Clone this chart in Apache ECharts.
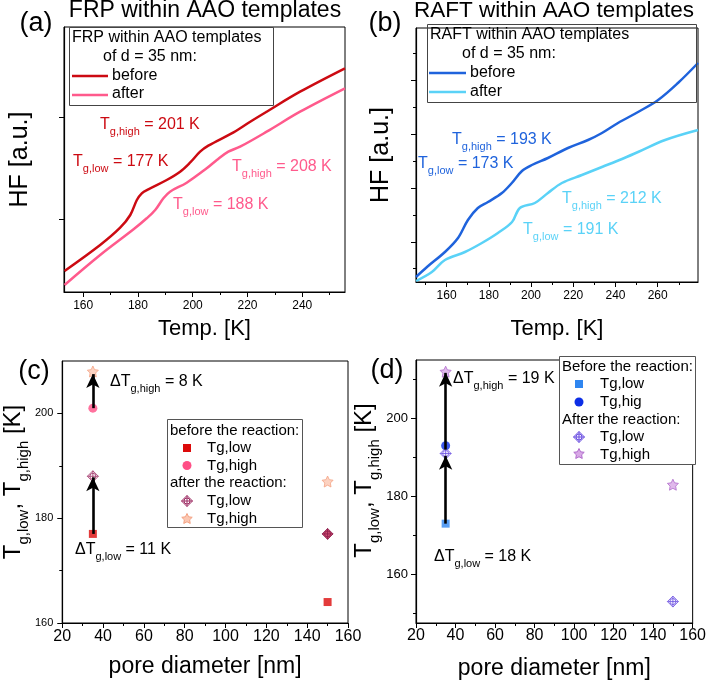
<!DOCTYPE html>
<html><head><meta charset="utf-8">
<script src="https://cdn.jsdelivr.net/npm/echarts@6/dist/echarts.min.js"></script>
<style>html,body{margin:0;padding:0;background:#fff}#c{width:709px;height:681px}</style>
</head><body><div id="c"></div>
<script>
// ---------- DATA ----------
// (a) FRP within AAO templates, d = 35 nm  (Temp [K], HF [a.u.])
const aTempBefore = [153.2,166.2,173.5,177.2,179.6,181.4,183.8,190.5,195.4,199,202.7,205.7,214.9,221,227,239.2,255.6];
const aHFBefore   = [21,47,64.3,77,92,98.7,102.7,112,120.3,129.3,140.3,146.3,159.7,170.3,180.3,200.3,223.7];
const aTempAfter  = [153.2,166.2,178.4,183.2,186.3,189.3,191.7,197.8,205.1,208.8,213,217.3,227,239.2,255.6];
const aHFAfter    = [7,37,62.7,73.7,82,93.7,100.3,109.3,123.7,132,140.3,145.3,160.3,180.3,203.7];
// (b) RAFT within AAO templates, d = 35 nm
const bTempBefore = [145.5,150.7,159.2,165.4,170.1,174.8,179.6,186.2,190.9,195.7,200.4,208,217.5,227,233.6,241.2,250.7,260.2,269.6,279.1];
const bHFBefore   = [5,15,30,44,62,74,80,89,99,111,117,124,134,142,149,159,170,182,199,219];
const bTempAfter  = [145.5,153,159.2,168.7,176.7,184.3,191,194.7,201.8,208,214.6,224.1,233.6,243.1,250.7,263.5,279.1];
const bHFAfter    = [1,10,22,30,39,49,60,74,79,89,99,107,115,123,130,142,152];
// (c) FRP: Tg vs pore diameter
const cPoreBefLow = [35,150];  const cLowBefore  = [177,164];
const cPoreBefHigh = [35];     const cHighBefore = [201];
const cPoreAftLow = [35,150];  const cLowAfter   = [188,177];
const cPoreAftHigh = [35,150]; const cHighAfter  = [208,187];
const cArrowLow  = [177,187.8];
const cArrowHigh = [201,207.5];
// (d) RAFT: Tg vs pore diameter
const dPoreBefLow = [35];      const dLowBefore  = [173];
const dPoreBefHigh = [35];     const dHighBefore = [193];
const dPoreAftLow = [35,150];  const dLowAfter   = [191,153];
const dPoreAftHigh = [35,150]; const dHighAfter  = [212,183];
const dArrowLow  = [173,190.4];
const dArrowHigh = [192,211.7];
// tick labels
const abTempTicksA = [160,180,200,220,240];
const abTempMinorA = [170,190,210,230,250];
const abTempTicksB = [160,180,200,220,240,260];
const abTempMinorB = [150,170,190,210,230,250,270];
const poreTicks = [20,40,60,80,100,120,140,160];
const poreMinor = [30,50,70,90,110,130,150];
const cTgTicks = [160,180,200];
const cTgMinor = [170,190];
const dTgTicks = [160,180,200];
const dTgMinor = [150,170,190,210];

// ---------- HELPERS ----------
const FF = "'Liberation Sans', Arial, sans-serif";
const zip = (xs, ys) => xs.map((x, i) => [x, ys[i]]);
const DIAMOND = 'M10,0 L20,10 L10,20 L0,10 Z M15.5,10 A5.5,5.5 0 1 1 4.5,10 A5.5,5.5 0 1 1 15.5,10 M10,0 L10,20 M0,10 L20,10';
const STAR = 'M10,0 L12.9,6 L19.5,6.9 L14.8,11.5 L15.9,18.1 L10,15 L4.1,18.1 L5.2,11.5 L0.5,6.9 L7.1,6 Z';
const STAR_PTS = [[10,0],[12.9,6],[19.5,6.9],[14.8,11.5],[15.9,18.1],[10,15],[4.1,18.1],[5.2,11.5],[0.5,6.9],[7.1,6]];

function axisPair(dim, grid, min, max, labels, major, minor, o) {
  o = o || {};
  const main = {
    type: 'value', gridIndex: grid, min: min, max: max,
    position: dim === 'x' ? 'bottom' : 'left',
    splitLine: {show: false},
    axisLine: {show: true, onZero: false, lineStyle: {color: '#000', width: 1.2}},
    axisTick: {show: true, inside: false, length: 5, customValues: major, lineStyle: {color: '#000', width: 1}},
    axisLabel: labels ? {show: true, customValues: labels, color: '#000', fontFamily: FF, fontSize: o.fs || 12, margin: o.margin || 8} : {show: false},
    name: o.name || '', nameLocation: 'middle', nameGap: o.nameGap || 30,
    nameTextStyle: o.nameStyle || {}
  };
  const mn = {
    type: 'value', gridIndex: grid, min: min, max: max,
    position: dim === 'x' ? 'bottom' : 'left',
    splitLine: {show: false},
    axisLine: {show: false, onZero: false},
    axisTick: minor ? {show: true, length: 3, customValues: minor, lineStyle: {color: '#000', width: 1}} : {show: false},
    axisLabel: {show: false}
  };
  return [main, mn];
}
const richTg = (sz, ssz, col) => ({
  m: {fontFamily: FF, fontSize: sz, color: col, fill: col, lineHeight: sz + 2, padding: [0, 0, Math.round(sz * 0.27), 0], verticalAlign: 'bottom'},
  s: {fontFamily: FF, fontSize: ssz, color: col, fill: col, lineHeight: ssz, verticalAlign: 'bottom'}
});

const xAxes = [], yAxes = [];
xAxes.push(...axisPair('x', 0, 153, 255.6, abTempTicksA, abTempTicksA, abTempMinorA,
  {fs: 12, name: 'Temp. [K]', nameGap: 26, nameStyle: {fontFamily: FF, fontSize: 22, color: '#000'}}));
yAxes.push(...axisPair('y', 0, 0, 265, null, [73, 175], null,
  {name: 'HF [a.u.]', nameGap: 31, nameStyle: {fontFamily: FF, fontSize: 25, color: '#000'}}));
xAxes.push(...axisPair('x', 1, 145.5, 279.1, abTempTicksB, abTempTicksB, abTempMinorB,
  {fs: 12, name: 'Temp. [K]', nameGap: 36, nameStyle: {fontFamily: FF, fontSize: 22, color: '#000'}}));
yAxes.push(...axisPair('y', 1, 0, 254, null, [40, 94, 148, 202], [14, 67, 121, 175, 229],
  {name: 'HF [a.u.]', nameGap: 22, nameStyle: {fontFamily: FF, fontSize: 25, color: '#000'}}));
xAxes.push(...axisPair('x', 2, 20, 160, poreTicks, poreTicks, poreMinor,
  {fs: 16, margin: 6, name: 'pore diameter [nm]', nameGap: 32, nameStyle: {fontFamily: FF, fontSize: 23, color: '#000'}}));
yAxes.push(...axisPair('y', 2, 160, 210, cTgTicks, cTgTicks, cTgMinor,
  {fs: 11, margin: 9, name: '{m|T}{s|g,low}{m|, T}{s|g,high}{m| [K]}', nameGap: 29,
   nameStyle: {rich: richTg(24, 15, '#000'), padding: [0, 0, 0, 20]}}));
xAxes.push(...axisPair('x', 3, 20, 160, poreTicks, poreTicks, poreMinor,
  {fs: 16, margin: 5, name: 'pore diameter [nm]', nameGap: 34, nameStyle: {fontFamily: FF, fontSize: 23, color: '#000'}}));
yAxes.push(...axisPair('y', 3, 147.5, 215, dTgTicks, dTgTicks, dTgMinor,
  {fs: 13, margin: 8, name: '{m|T}{s|g,low}{m|, T}{s|g,high}{m| [K]}', nameGap: 27,
   nameStyle: {rich: richTg(24, 15, '#000'), padding: [0, 0, 0, 22]}}));

const grids = [
  {left: 64, top: 27, width: 281, height: 265},
  {left: 416, top: 28, width: 282, height: 254},
  {left: 62, top: 361, width: 286, height: 262},
  {left: 416, top: 360, width: 280, height: 265}
].map(g => Object.assign(g, {show: true, borderColor: '#000', borderWidth: 1, backgroundColor: 'transparent', containLabel: false}));

// ---------- COLOURS ----------
const C = {
  aBefore: '#cc0a12', aAfter: '#ff5a8c',
  bBefore: '#1f63dc', bAfter: '#5ad2f7',
  cSq: '#dc0a0a', cCirc: '#ff4f86', cDia: '#9c2a62', cStar: '#f4a283',
  dSq: '#2f86f0', dCirc: '#0c2ee6', dDia: '#6a4fe0', dStar: '#b06ccc'
};

function lineSeries(k, xs, ys, col) {
  return {type: 'line', xAxisIndex: 2 * k, yAxisIndex: 2 * k, data: zip(xs, ys), smooth: 0.35,
          symbol: 'none', lineStyle: {color: col, width: 2.5}, silent: true, z: 3};
}
function arrows(pore, a1, a2) {
  return {silent: true, symbol: ['none', 'arrow'], symbolSize: [10, 14], label: {show: false},
    lineStyle: {color: '#000', width: 2.6, type: 'solid'}, emphasis: {disabled: true}, animation: false,
    data: [[{coord: [pore, a1[0]]}, {coord: [pore, a1[1]]}], [{coord: [pore, a2[0]]}, {coord: [pore, a2[1]]}]]};
}
function scat(k, xs, ys, symbol, size, style, extra) {
  return Object.assign({type: 'scatter', xAxisIndex: 2 * k, yAxisIndex: 2 * k, data: zip(xs, ys),
    symbol: symbol, symbolSize: size, itemStyle: style, silent: true, z: 4}, extra || {});
}

const series = [
  lineSeries(0, aTempBefore, aHFBefore, C.aBefore),
  lineSeries(0, aTempAfter, aHFAfter, C.aAfter),
  lineSeries(1, bTempBefore, bHFBefore, C.bBefore),
  lineSeries(1, bTempAfter, bHFAfter, C.bAfter),
  // (c)
  scat(2, cPoreBefLow, cLowBefore, 'rect', 8, {color: C.cSq}, {markLine: arrows(cPoreBefLow[0], cArrowLow, cArrowHigh)}),
  scat(2, cPoreBefHigh, cHighBefore, 'circle', 9, {color: C.cCirc}),
  scat(2, cPoreAftHigh, cHighAfter, 'path://' + STAR, 11, {color: '#fbc7b2', borderColor: C.cStar, borderWidth: 1}),
  Object.assign(scat(2, cPoreAftLow, cLowAfter, 'path://' + DIAMOND, 11, {color: 'rgba(255,255,255,0.7)', borderColor: C.cDia, borderWidth: 1}),
    {data: zip(cPoreAftLow, cLowAfter).map((p, i) => i === 1 ? {value: p, itemStyle: {color: '#c0204e', borderColor: '#8a1a4a'}} : p)}),
  // (d)
  scat(3, dPoreBefLow, dLowBefore, 'rect', 8, {color: C.dSq}, {markLine: arrows(dPoreBefLow[0], dArrowLow, dArrowHigh)}),
  scat(3, dPoreBefHigh, dHighBefore, 'circle', 9, {color: C.dCirc}),
  scat(3, dPoreAftLow, dLowAfter, 'path://' + DIAMOND, 11, {color: 'rgba(235,230,255,0.7)', borderColor: C.dDia, borderWidth: 1}),
  scat(3, dPoreAftHigh, dHighAfter, 'path://' + STAR, 11, {color: '#d8a8e6', borderColor: C.dStar, borderWidth: 1})
];

// ---------- GRAPHIC TEXT / LEGENDS ----------
const G = [];
function txt(x, y, text, size, col, align, va) {
  G.push({type: 'text', x: x, y: y, z: 10, silent: true,
    style: {text: text, fontFamily: FF, fontSize: size, fill: col || '#000', align: align || 'left', verticalAlign: va || 'middle'}});
}
function subTxt(x, y, pre, sub, post, col, sz, ssz) {
  sz = sz || 16; ssz = ssz || 11;
  G.push({type: 'text', x: x, y: y, z: 10, silent: true,
    style: {text: '{m|' + pre + '}{s|' + sub + '}{m|' + post + '}', rich: richTg(sz, ssz, col), fill: col, align: 'left', verticalAlign: 'middle'}});
}
function legDiamond(cx, cy, s, fill, stroke) {
  const h = s / 2;
  G.push({type: 'polygon', z: 10, silent: true, shape: {points: [[cx, cy - h], [cx + h, cy], [cx, cy + h], [cx - h, cy]]}, style: {fill: fill, stroke: stroke, lineWidth: 1}});
  G.push({type: 'circle', z: 11, silent: true, shape: {cx: cx, cy: cy, r: h * 0.55}, style: {fill: 'none', stroke: stroke, lineWidth: 1}});
  G.push({type: 'line', z: 11, silent: true, shape: {x1: cx, y1: cy - h, x2: cx, y2: cy + h}, style: {stroke: stroke, lineWidth: 1}});
  G.push({type: 'line', z: 11, silent: true, shape: {x1: cx - h, y1: cy, x2: cx + h, y2: cy}, style: {stroke: stroke, lineWidth: 1}});
}
function legStar(cx, cy, s, fill, stroke) {
  const k = s / 20;
  G.push({type: 'polygon', z: 10, silent: true, shape: {points: STAR_PTS.map(p => [cx - s / 2 + p[0] * k, cy - s / 2 + p[1] * k])}, style: {fill: fill, stroke: stroke, lineWidth: 1}});
}
// titles and panel letters
txt(205, 11, 'FRP within AAO templates', 23, '#000', 'center');
txt(554, 11, 'RAFT within AAO templates', 22.5, '#000', 'center');
txt(36, 24, '(a)', 27, '#000', 'center');
txt(385, 24, '(b)', 27, '#000', 'center');
txt(34, 372, '(c)', 27, '#000', 'center');
txt(387, 371, '(d)', 27, '#000', 'center');

// legend (a)
G.push({type: 'rect', z: 9, silent: true, shape: {x: 69.5, y: 27.5, width: 204, height: 78}, style: {fill: 'none', stroke: '#444', lineWidth: 1}});
txt(72, 38, 'FRP within AAO templates', 16);
txt(103, 57, 'of d = 35 nm:', 16);
G.push({type: 'line', z: 10, silent: true, shape: {x1: 72, y1: 76, x2: 108, y2: 76}, style: {stroke: C.aBefore, lineWidth: 2.5}});
G.push({type: 'line', z: 10, silent: true, shape: {x1: 72, y1: 95, x2: 108, y2: 95}, style: {stroke: C.aAfter, lineWidth: 2.5}});
txt(112, 76, 'before', 16);
txt(112, 94, 'after', 16);
// legend (b)
G.push({type: 'rect', z: 9, silent: true, shape: {x: 427.5, y: 24.5, width: 269, height: 78}, style: {fill: 'none', stroke: '#444', lineWidth: 1}});
txt(430, 35, 'RAFT within AAO templates', 16);
txt(462, 54, 'of d = 35 nm:', 16);
G.push({type: 'line', z: 10, silent: true, shape: {x1: 429, y1: 73, x2: 466, y2: 73}, style: {stroke: C.bBefore, lineWidth: 2.5}});
G.push({type: 'line', z: 10, silent: true, shape: {x1: 429, y1: 92, x2: 466, y2: 92}, style: {stroke: C.bAfter, lineWidth: 2.5}});
txt(470, 73, 'before', 16);
txt(470, 92, 'after', 16);

// annotations (a)
subTxt(100, 128, 'T', 'g,high', ' = 201 K', C.aBefore);
subTxt(73, 165, 'T', 'g,low', ' = 177 K', C.aBefore);
subTxt(232, 170, 'T', 'g,high', ' = 208 K', C.aAfter);
subTxt(173, 208, 'T', 'g,low', ' = 188 K', C.aAfter);
// annotations (b)
subTxt(452, 143, 'T', 'g,high', ' = 193 K', C.bBefore);
subTxt(418, 167, 'T', 'g,low', ' = 173 K', C.bBefore);
subTxt(562, 202, 'T', 'g,high', ' = 212 K', C.bAfter);
subTxt(523, 233, 'T', 'g,low', ' = 191 K', C.bAfter);
// annotations (c), (d)
subTxt(110, 385, '\u0394T', 'g,high', ' = 8 K', '#000');
subTxt(75, 553, '\u0394T', 'g,low', ' = 11 K', '#000');
subTxt(453, 382, '\u0394T', 'g,high', ' = 19 K', '#000');
subTxt(434, 560, '\u0394T', 'g,low', ' = 18 K', '#000');

// legend (c)
G.push({type: 'rect', z: 9, silent: true, shape: {x: 167.5, y: 419.5, width: 135, height: 108}, style: {fill: '#fff', stroke: '#555', lineWidth: 1}});
txt(170, 431, 'before the reaction:', 15);
txt(207, 448, 'Tg,low', 15);
txt(207, 466, 'Tg,high', 15);
txt(170, 483, 'after the reaction:', 15);
txt(207, 501, 'Tg,low', 15);
txt(207, 519, 'Tg,high', 15);
G.push({type: 'rect', z: 10, silent: true, shape: {x: 183, y: 444, width: 8, height: 8}, style: {fill: C.cSq}});
G.push({type: 'circle', z: 10, silent: true, shape: {cx: 187, cy: 465.5, r: 4.5}, style: {fill: C.cCirc}});
legDiamond(187, 501, 11, 'rgba(255,255,255,0.7)', C.cDia);
legStar(187, 519, 11, '#fbc7b2', C.cStar);
// legend (d)
G.push({type: 'rect', z: 9, silent: true, shape: {x: 559.5, y: 356.5, width: 136, height: 108}, style: {fill: '#fff', stroke: '#555', lineWidth: 1}});
txt(562, 367, 'Before the reaction:', 15);
txt(600, 384, 'Tg,low', 15);
txt(600, 402, 'Tg,hig', 15);
txt(562, 420, 'After the reaction:', 15);
txt(600, 437, 'Tg,low', 15);
txt(600, 455, 'Tg,high', 15);
G.push({type: 'rect', z: 10, silent: true, shape: {x: 575, y: 380, width: 8, height: 8}, style: {fill: C.dSq}});
G.push({type: 'circle', z: 10, silent: true, shape: {cx: 579, cy: 402, r: 4.5}, style: {fill: C.dCirc}});
legDiamond(579, 437, 11, 'rgba(235,230,255,0.7)', C.dDia);
legStar(579, 454, 11, '#d8a8e6', C.dStar);

const chart = echarts.init(document.getElementById('c'), null, {renderer: 'canvas'});
chart.setOption({
  animation: false,
  backgroundColor: '#fff',
  textStyle: {fontFamily: FF},
  grid: grids,
  xAxis: xAxes,
  yAxis: yAxes,
  series: series,
  graphic: {elements: G}
});
</script></body></html>
